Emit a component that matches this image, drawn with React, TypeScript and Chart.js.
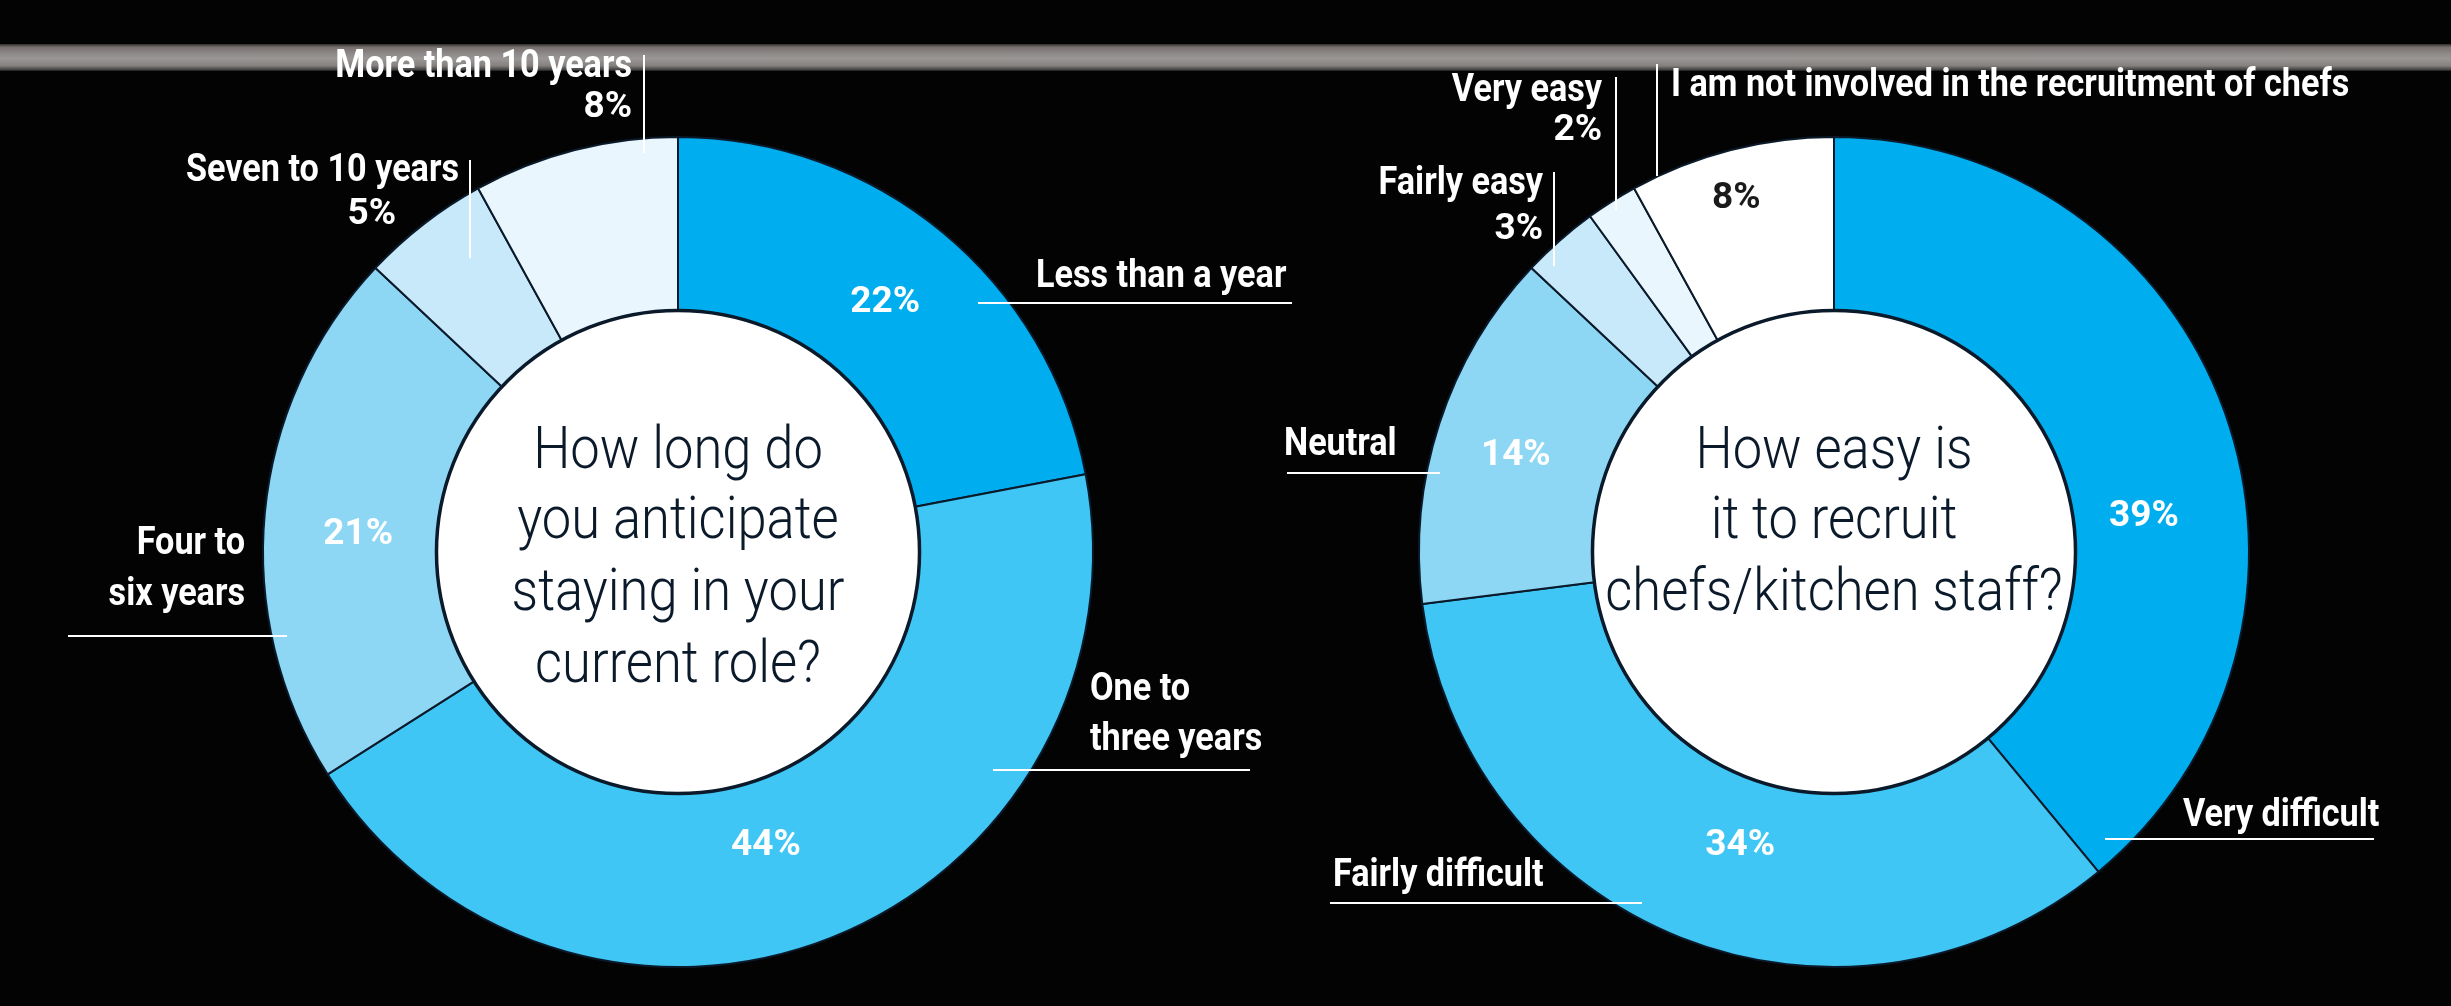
import React, { useEffect, useRef } from "react";
import { Chart, registerables } from "chart.js";

Chart.register(...registerables);

// ---------- DATA ----------
const stayCategories = ["Less than a year", "One to three years", "Four to six years", "Seven to 10 years", "More than 10 years"];
const stayValues = [22, 44, 21, 5, 8];
const stayQuestion = ["How long do", "you anticipate", "staying in your", "current role?"];

const recruitCategories = ["Very difficult", "Fairly difficult", "Neutral", "Fairly easy", "Very easy", "I am not involved in the recruitment of chefs"];
const recruitValues = [39, 34, 14, 3, 2, 8];
const recruitQuestion = ["How easy is", "it to recruit", "chefs/kitchen staff?"];

// ---------- STYLE / LAYOUT ----------
const stayColors = ["#00AEEF", "#40C6F4", "#8DD7F5", "#C7E9F9", "#EAF6FD"];
const recruitColors = ["#00AEEF", "#40C6F4", "#8DD7F5", "#C7E9F9", "#EAF6FD", "#FFFFFF"];

const W = 2451;
const H = 1006;

type LabelSpec = {
  wrap?: number; // words on first line
  showValue?: boolean; // value printed outside under name
  valueX?: number; // right edge of outside value, if different from name
  align: "left" | "right";
  x: number;
  baselines: number[];
  line: [number, number, number, number];
  inside?: [number, number] | null; // offset of inner % label from arc centroid
};

const stayLayout: LabelSpec[] = [
  { align: "left", x: 1036, baselines: [287], line: [978, 303, 1292, 303], inside: [-2, 0] },
  { wrap: 2, align: "left", x: 1090, baselines: [700, 750], line: [993, 770, 1250, 770], inside: [-33, -15] },
  { wrap: 2, align: "right", x: 245, baselines: [554, 605], line: [68, 636, 287, 636], inside: [7, 10] },
  { showValue: true, valueX: 396, align: "right", x: 459, baselines: [181, 224], line: [470, 160, 470, 258], inside: null },
  { showValue: true, align: "right", x: 632, baselines: [77, 117], line: [644, 55, 644, 153], inside: null },
];

const recruitLayout: LabelSpec[] = [
  { align: "left", x: 2183, baselines: [826], line: [2105, 839, 2374, 839], inside: [1, 72] },
  { align: "left", x: 1333, baselines: [886], line: [1330, 903, 1642, 903], inside: [27, -15] },
  { align: "left", x: 1284, baselines: [455], line: [1287, 473, 1440, 473], inside: [-6, 1] },
  { showValue: true, align: "right", x: 1543, baselines: [194, 239], line: [1554, 172, 1554, 266], inside: null },
  { showValue: true, align: "right", x: 1602, baselines: [101, 140], line: [1616, 77, 1616, 210], inside: null },
  { align: "left", x: 1671, baselines: [96], line: [1657, 64, 1657, 176], inside: [-16, -39] },
];

const LABEL_FONT = 'bold 38px Roboto, "Noto Sans", sans-serif';
const LABEL_SX = 0.9;
const PCT_FONT = 'bold 37px Roboto, "Noto Sans", sans-serif';
const PCT_SX = 1.0;
const Q_FONT = '300 60px Roboto, "Noto Sans", sans-serif';
const Q_SX = 0.875;
const EDGE = "#0b1a2a";

function drawText(ctx: CanvasRenderingContext2D, text: string, x: number, y: number, align: CanvasTextAlign, sx: number) {
  ctx.save();
  ctx.translate(x, y);
  ctx.scale(sx, 1);
  ctx.textAlign = align;
  ctx.textBaseline = "alphabetic";
  ctx.fillText(text, 0, 0);
  ctx.restore();
}

function makePlugin(categories: string[], values: number[], layout: LabelSpec[], question: string[], qBaselines: number[]) {
  return {
    id: "decor",
    afterDatasetsDraw(chart: any) {
      const ctx: CanvasRenderingContext2D = chart.ctx;
      const meta = chart.getDatasetMeta(0);
      const arcs = meta.data;
      if (!arcs.length) return;
      const a0 = arcs[0].getProps(["x", "y", "innerRadius", "outerRadius"], true);
      ctx.save();
      // inner white disc
      ctx.beginPath();
      ctx.arc(a0.x, a0.y, a0.innerRadius, 0, Math.PI * 2);
      ctx.fillStyle = "#ffffff";
      ctx.fill();
      ctx.lineWidth = 3.5;
      ctx.strokeStyle = EDGE;
      ctx.stroke();

      // question text
      ctx.fillStyle = EDGE;
      ctx.font = Q_FONT;
      question.forEach((q, i) => drawText(ctx, q, a0.x, qBaselines[i], "center", Q_SX));

      // inside percentages
      ctx.font = PCT_FONT;
      arcs.forEach((arc: any, i: number) => {
        const spec = layout[i];
        if (!spec.inside) return;
        const p = arc.getProps(["x", "y", "startAngle", "endAngle", "innerRadius", "outerRadius"], true);
        const mid = (p.startAngle + p.endAngle) / 2;
        const r = (p.innerRadius + p.outerRadius) / 2;
        const px = p.x + Math.cos(mid) * r + spec.inside[0];
        const py = p.y + Math.sin(mid) * r + spec.inside[1];
        const bg = (chart.data.datasets[0].backgroundColor as string[])[i];
        ctx.fillStyle = bg.toUpperCase() === "#FFFFFF" ? "#1a1a1a" : "#ffffff";
        drawText(ctx, values[i] + "%", px, py + 13, "center", PCT_SX);
      });

      // outside labels and leader lines
      ctx.strokeStyle = "#ffffff";
      ctx.lineWidth = 2;
      ctx.fillStyle = "#ffffff";
      layout.forEach((spec, i) => {
        const words = categories[i].split(" ");
        let lines: string[] = [categories[i]];
        if (spec.wrap) lines = [words.slice(0, spec.wrap).join(" "), words.slice(spec.wrap).join(" ")];
        lines.forEach((t, j) => {
          ctx.font = LABEL_FONT;
          drawText(ctx, t, spec.x, spec.baselines[j], spec.align, LABEL_SX);
        });
        if (spec.showValue) {
          ctx.font = PCT_FONT;
          drawText(ctx, values[i] + "%", spec.valueX ?? spec.x, spec.baselines[lines.length], spec.align, PCT_SX);
        }
        const [x1, y1, x2, y2] = spec.line;
        ctx.beginPath();
        ctx.moveTo(x1, y1);
        ctx.lineTo(x2, y2);
        ctx.stroke();
      });
      ctx.restore();
    },
  };
}

function Donut(props: {
  categories: string[]; values: number[]; colors: string[]; layout: LabelSpec[]; question: string[];
  qBaselines: number[]; padding: { left: number; right: number; top: number; bottom: number };
}) {
  const ref = useRef<HTMLCanvasElement | null>(null);
  useEffect(() => {
    if (!ref.current) return;
    const chart = new Chart(ref.current, {
      type: "doughnut",
      data: {
        labels: props.categories,
        datasets: [
          {
            data: props.values,
            backgroundColor: props.colors,
            borderColor: EDGE,
            borderWidth: 2,
          },
        ],
      },
      options: {
        responsive: false,
        maintainAspectRatio: false,
        animation: false,
        cutout: "58.2%",
        rotation: 0,
        layout: { padding: props.padding },
        plugins: { legend: { display: false }, tooltip: { enabled: false } },
        events: [],
      },
      plugins: [makePlugin(props.categories, props.values, props.layout, props.question, props.qBaselines)],
    } as any);
    return () => chart.destroy();
  }, []);
  return (
    <canvas
      ref={ref}
      width={W}
      height={H}
      style={{ position: "absolute", left: 0, top: 0, width: W, height: H, display: "block" }}
    />
  );
}

export default function App() {
  return (
    <div style={{ position: "absolute", left: 0, top: 0, width: W, height: H, background: "#030303", overflow: "hidden" }}>
      <div
        style={{
          position: "absolute",
          left: 0,
          top: 44,
          width: W,
          height: 27,
          background: "linear-gradient(to bottom, #2e2d2d 0%, #77706f 12%, #8d8988 35%, #9a9695 55%, #85817f 80%, #4a4848 94%, #1a1a1a 100%)",
        }}
      />
      <Donut
        categories={stayCategories}
        values={stayValues}
        colors={stayColors}
        layout={stayLayout}
        question={stayQuestion}
        qBaselines={[468, 538, 610, 682]}
        padding={{ left: 262, right: W - 1094, top: 136, bottom: H - 968 }}
      />
      <Donut
        categories={recruitCategories}
        values={recruitValues}
        colors={recruitColors}
        layout={recruitLayout}
        question={recruitQuestion}
        qBaselines={[468, 538, 610]}
        padding={{ left: 1418, right: W - 2250, top: 136, bottom: H - 968 }}
      />
    </div>
  );
}
